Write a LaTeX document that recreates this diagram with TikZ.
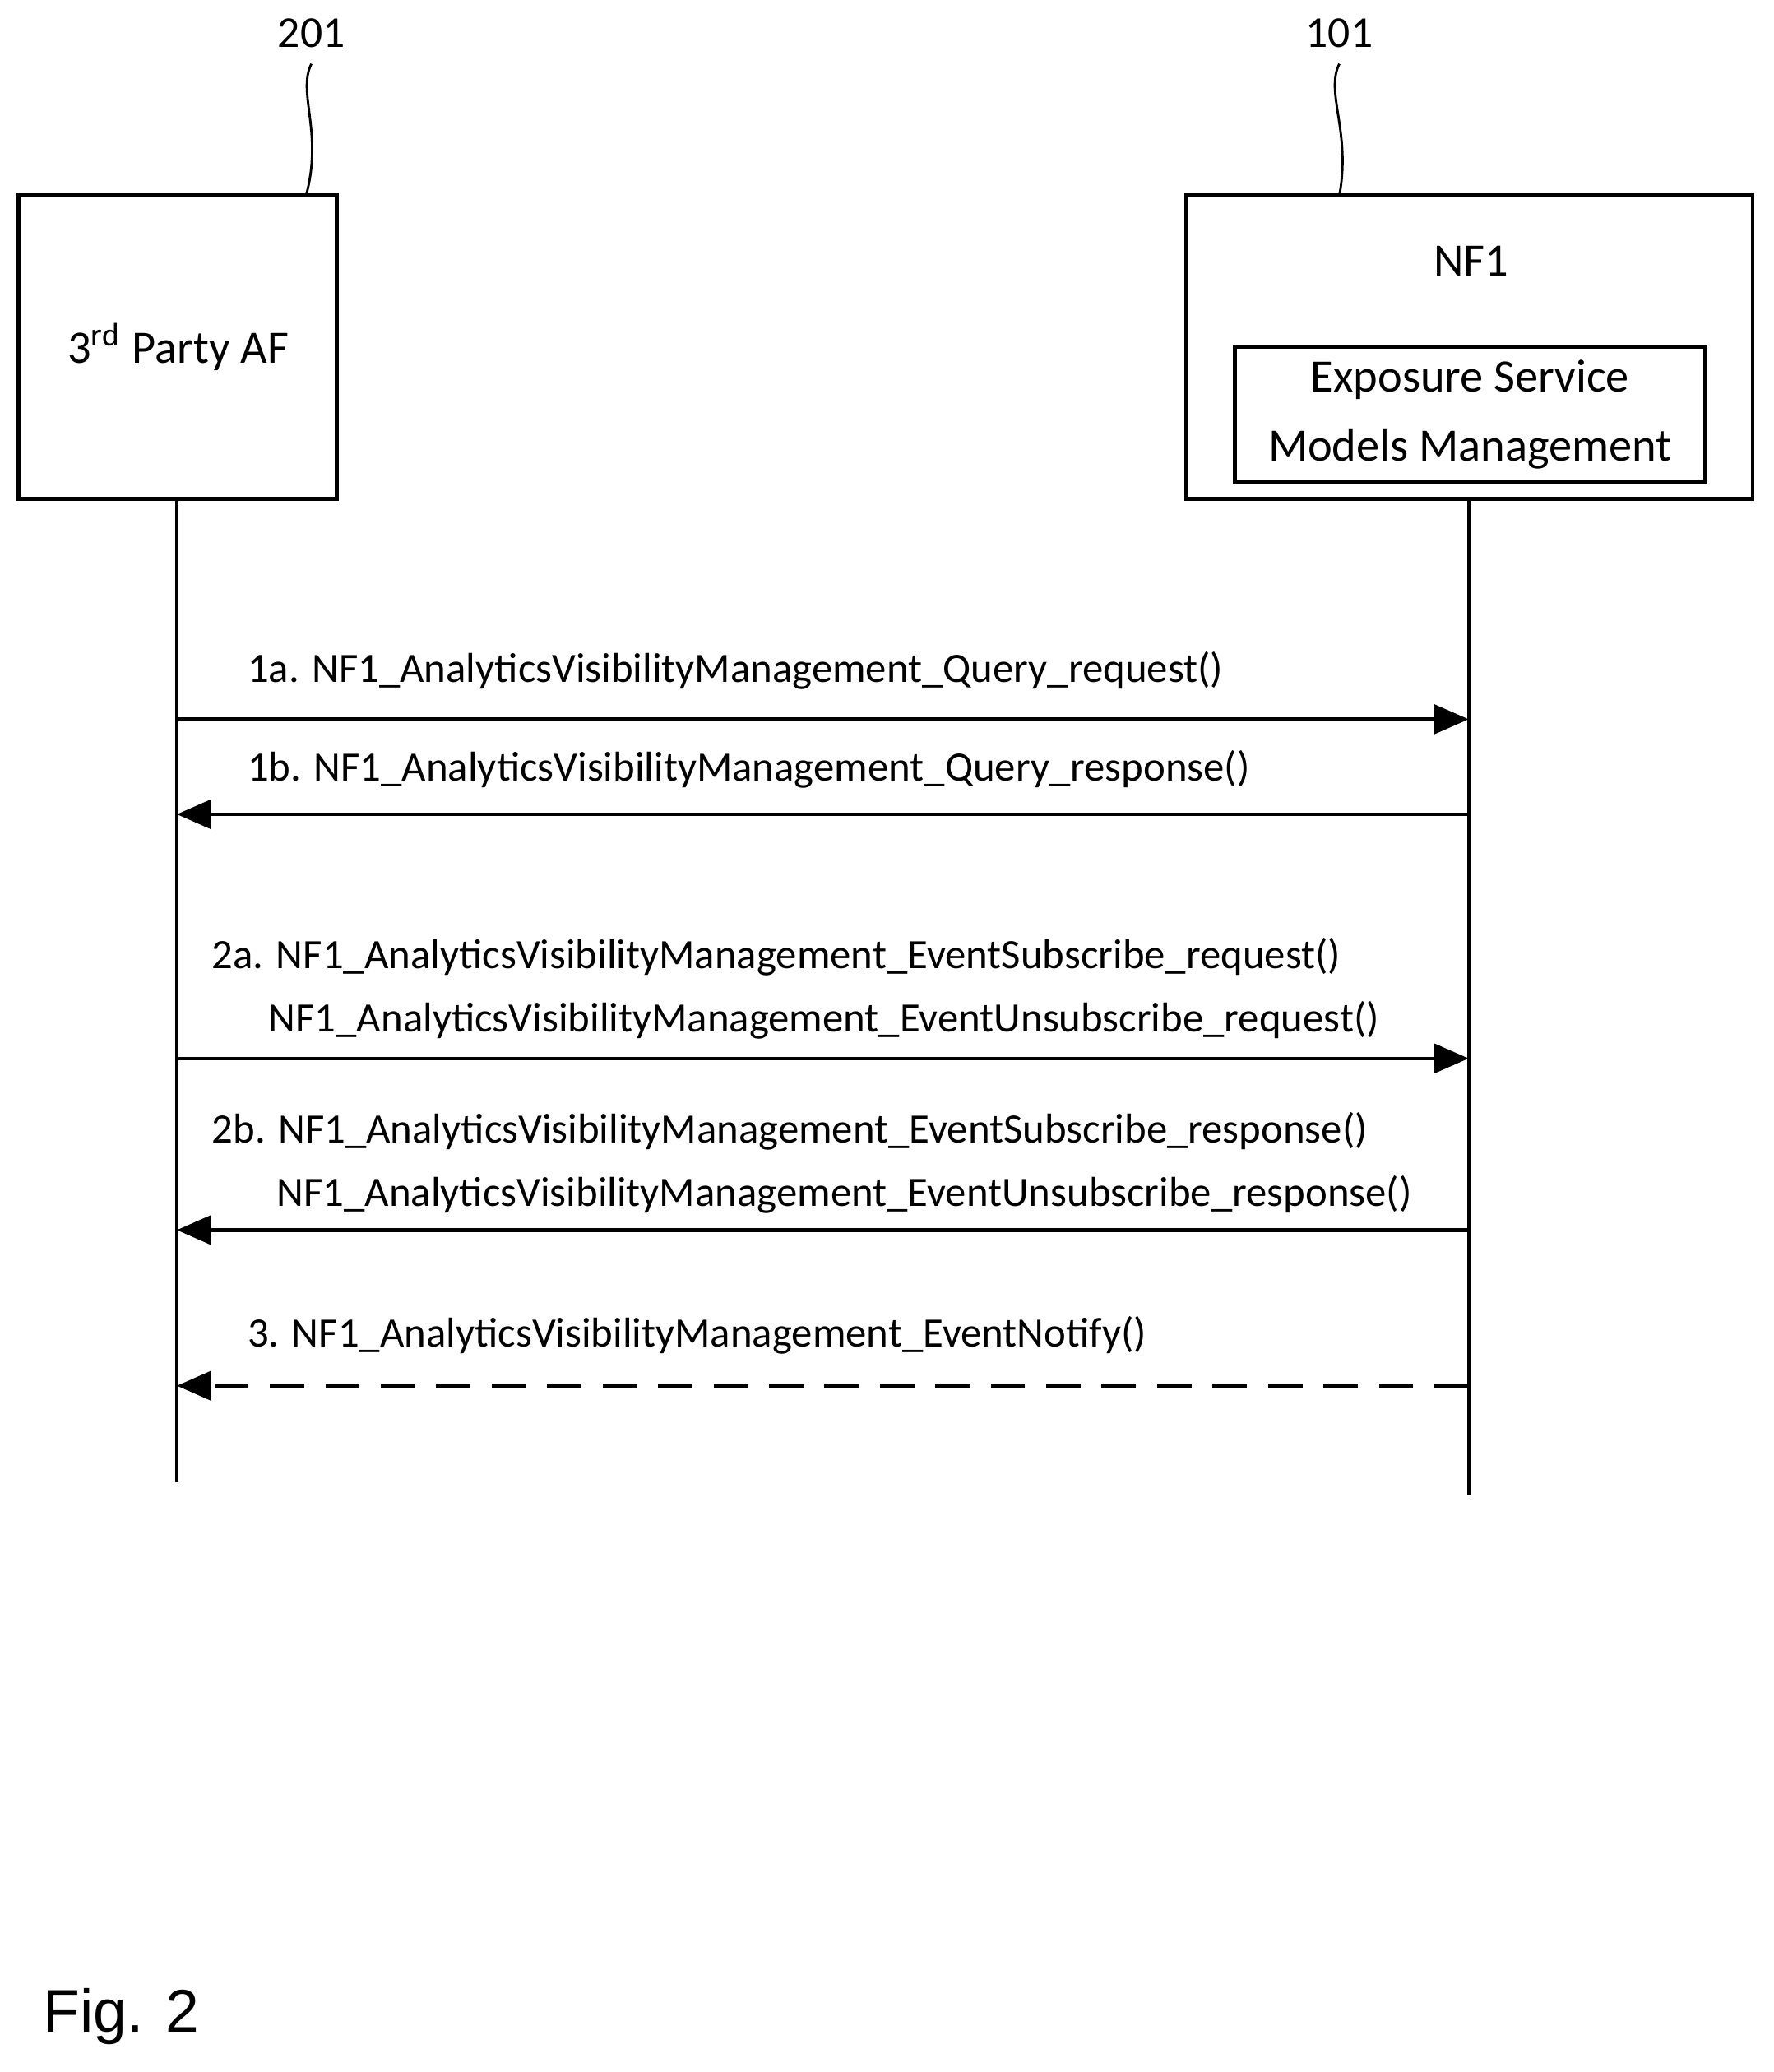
\documentclass[tikz,border=0pt]{standalone}
\usepackage{fontspec}
\setmainfont{Carlito}
\newfontfamily\figfont{Liberation Sans}
\usetikzlibrary{arrows.meta, positioning, calc}

\begin{document}
\begin{tikzpicture}[x=0.01cm, y=-0.01cm,
  entity/.style={draw, line width=0.8pt, inner sep=0pt},
  msg/.style={font=\fontsize{9}{11}\selectfont, anchor=west, inner sep=0pt},
  call/.style={line width=0.8pt, -{Triangle[length=0.26cm, width=0.22cm]}},
  life/.style={line width=0.8pt}]
\useasboundingbox (0,0) rectangle (1344,1570);
% Entities
\node[entity, minimum width=2.41cm, minimum height=2.30cm] (af) at (134.5,263) {};
\node[font=\fontsize{10}{12}\selectfont] (aflabel) at (135,263) {3\textsuperscript{rd} Party AF};
\node[entity, minimum width=4.29cm, minimum height=2.30cm] (nf) at (1113.5,263) {};
\node[font=\fontsize{10}{12}\selectfont] (nflabel) at (1115,198) {NF1};
\node[entity, minimum width=3.56cm, minimum height=1.02cm, align=center,
  font=\fontsize{10}{15}\selectfont] (esm) at (1114,314) {Exposure Service\\Models Management};

% Reference numerals
\node[font=\fontsize{9.5}{12}\selectfont] (n201) at (236,25) {201};
\node[font=\fontsize{9.5}{12}\selectfont] (n101) at (1015,25) {101};
\draw[line width=0.5pt] (n201.south) .. controls (225,70) and (245,100) .. (232,148);
\draw[line width=0.5pt] (n101.south) .. controls (1004,70) and (1024,100) .. (1015,148);

% Lifelines
\coordinate (afend) at (134,1123);
\coordinate (nfend) at (1113,1133);
\draw[life] (134,378) -- (afend);
\draw[life] (1113,378) -- (nfend);

% Messages
\coordinate (a1) at (134,545); \coordinate (b1) at (1113,545);
\coordinate (a2) at (134,617); \coordinate (b2) at (1113,617);
\coordinate (a3) at (134,802); \coordinate (b3) at (1113,802);
\coordinate (a4) at (134,932); \coordinate (b4) at (1113,932);
\coordinate (a5) at (134,1050); \coordinate (b5) at (1113,1050);
\draw[call] (a1) -- (b1);
\draw[call] (b2) -- (a2);
\draw[call] (a3) -- (b3);
\draw[call] (b4) -- (a4);
\draw[call, dash pattern=on 0.26cm off 0.16cm] (b5) -- (a5);

\node[msg] (m1) at (187,508) {1a. NF1\_AnalyticsVisibilityManagement\_Query\_request()};
\node[msg] (m2) at (187,583) {1b. NF1\_AnalyticsVisibilityManagement\_Query\_response()};
\node[msg] (m3) at (160,725) {2a. NF1\_AnalyticsVisibilityManagement\_EventSubscribe\_request()};
\node[msg] (m3b) at (203,773) {NF1\_AnalyticsVisibilityManagement\_EventUnsubscribe\_request()};
\node[msg] (m4) at (160,857) {2b. NF1\_AnalyticsVisibilityManagement\_EventSubscribe\_response()};
\node[msg] (m4b) at (209,905) {NF1\_AnalyticsVisibilityManagement\_EventUnsubscribe\_response()};
\node[msg] (m5) at (187,1012) {3. NF1\_AnalyticsVisibilityManagement\_EventNotify()};

% Caption
\node[font=\figfont\fontsize{13}{16}\selectfont, anchor=west, inner sep=0pt] (fig) at (32,1528) {Fig. 2};
\end{tikzpicture}
\end{document}
